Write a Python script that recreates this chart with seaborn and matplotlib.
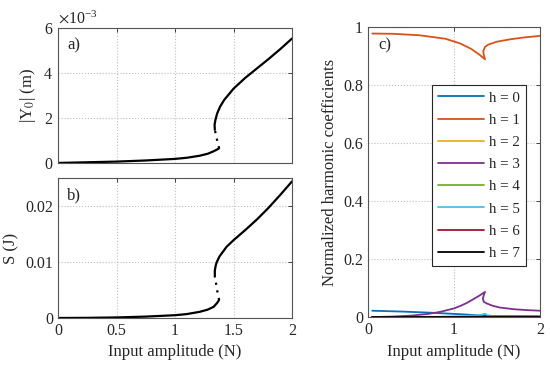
import numpy as np
import pandas as pd
import seaborn as sns
import matplotlib.pyplot as plt
from matplotlib.ticker import ScalarFormatter

# --- data ---
# panel a) |Y0| in units of 1e-3 m, three branches of the fold
a_low_x = [0.0, 0.25, 0.5, 0.75, 1.0, 1.1, 1.21, 1.28, 1.33, 1.36, 1.376]
a_low_y = [0.0, 0.03, 0.06, 0.11, 0.18, 0.23, 0.32, 0.41, 0.52, 0.60, 0.65]
a_mid_x = [1.376, 1.372, 1.362, 1.35, 1.34]
a_mid_y = [0.65, 0.80, 0.95, 1.24, 1.47]
a_up_x = [1.34, 1.338, 1.345, 1.36, 1.385, 1.42, 1.46, 1.5, 1.6, 1.7, 1.8, 1.9, 2.0]
a_up_y = [1.47, 1.70, 1.91, 2.2, 2.5, 2.8, 3.05, 3.3, 3.78, 4.2, 4.62, 5.06, 5.53]

# panel b) S in J
b_low_x = [0.0, 0.25, 0.5, 0.75, 1.0, 1.1, 1.21, 1.28, 1.33, 1.36, 1.376]
b_low_y = [0.0, 0.00003, 0.0001, 0.00025, 0.0005, 0.0007, 0.0011, 0.0015, 0.0020, 0.0027, 0.0032]
b_mid_x = [1.376, 1.372, 1.362, 1.35, 1.34]
b_mid_y = [0.0032, 0.0040, 0.0047, 0.0062, 0.0074]
b_up_x = [1.34, 1.340, 1.348, 1.357, 1.38, 1.44, 1.5, 1.6, 1.7, 1.8, 1.9, 2.0]
b_up_y = [0.0074, 0.0085, 0.0094, 0.0100, 0.0110, 0.0127, 0.0139, 0.0157, 0.0176, 0.0197, 0.0220, 0.0244]

# panel c) normalized harmonic coefficients, ordered along the solution path
h0_x = [0.05, 0.4, 0.74, 1.0, 1.13, 1.3, 1.37, 1.34, 1.4, 1.6, 2.0]
h0_y = [0.022, 0.019, 0.015, 0.011, 0.009, 0.006, 0.005, 0.004, 0.003, 0.003, 0.002]
h1_x = [0.05, 0.3, 0.6, 0.9, 1.07, 1.2, 1.3, 1.36, 1.345, 1.34, 1.36, 1.4, 1.5, 1.65, 1.8, 2.0]
h1_y = [0.978, 0.977, 0.972, 0.960, 0.944, 0.925, 0.904, 0.889, 0.905, 0.918, 0.932, 0.940, 0.950, 0.958, 0.964, 0.970]
h2_x = [0.05, 1.0, 1.37, 1.34, 2.0]
h2_y = [0.0, 0.001, 0.002, 0.002, 0.001]
h3_x = [0.05, 0.3, 0.5, 0.7, 0.84, 1.0, 1.07, 1.15, 1.22, 1.3, 1.36, 1.345, 1.335, 1.345, 1.38, 1.45, 1.53, 1.7, 1.85, 2.0]
h3_y = [0.0, 0.002, 0.005, 0.011, 0.018, 0.030, 0.038, 0.049, 0.061, 0.075, 0.087, 0.075, 0.064, 0.053, 0.047, 0.039, 0.033, 0.027, 0.024, 0.022]
h4_x = [0.05, 1.0, 1.37, 1.34, 2.0]
h4_y = [0.0, 0.0, 0.001, 0.001, 0.0]
h5_x = [0.05, 0.8, 1.1, 1.3, 1.37, 1.34, 1.45, 1.7, 2.0]
h5_y = [0.0, 0.001, 0.003, 0.007, 0.011, 0.008, 0.004, 0.002, 0.001]
h6_x = [0.05, 1.0, 1.37, 1.34, 2.0]
h6_y = [0.0, 0.0, 0.002, 0.002, 0.002]
h7_x = [0.05, 1.0, 1.37, 1.34, 2.0]
h7_y = [0.0, 0.0, 0.0, 0.0, 0.0]

h_labels = ['h = 0', 'h = 1', 'h = 2', 'h = 3', 'h = 4', 'h = 5', 'h = 6', 'h = 7']
h_colors = ['#0072BD', '#D95319', '#EDB120', '#7E2F8E', '#77AC30', '#4DBEEE', '#A2142F', '#000000']

sns.set_theme(style='white')
plt.rcParams['font.family'] = ['Liberation Serif', 'DejaVu Serif']
plt.rcParams['mathtext.fontset'] = 'stix'
plt.rcParams['font.size'] = 11.5

LABEL_SIZE = 12
TICK_SIZE = 11.5

fig = plt.figure(figsize=(5.5, 3.67), dpi=100)
ax_a = fig.add_axes([0.1055, 0.556, 0.4255, 0.368])
ax_b = fig.add_axes([0.1055, 0.1335, 0.4255, 0.3815])
ax_c = fig.add_axes([0.669, 0.136, 0.313, 0.790])


def style_axes(ax):
    for s in ax.spines.values():
        s.set_color('#555555')
        s.set_linewidth(0.8)
    ax.grid(True, color='#c0c0c0', linestyle=':', linewidth=0.8)
    ax.tick_params(direction='in', length=3, width=0.6, colors='#262626',
                   labelsize=TICK_SIZE, top=True, right=True, labelcolor='#262626')
    ax.set_axisbelow(True)


def draw_fold(ax, lx, ly, mx, my, ux, uy, scale=1.0):
    kw = dict(sort=False, estimator=None, color='black', ax=ax, legend=False)
    sns.lineplot(x=lx, y=np.array(ly) * scale, linewidth=1.6, **kw)
    sns.lineplot(x=mx, y=np.array(my) * scale, linewidth=1.6, linestyle=(0, (1, 2.5)), **kw)
    sns.lineplot(x=ux, y=np.array(uy) * scale, linewidth=1.6, **kw)


# a)
draw_fold(ax_a, a_low_x, a_low_y, a_mid_x, a_mid_y, a_up_x, a_up_y, scale=1e-3)
ax_a.set_xlim(0, 2)
ax_a.set_ylim(0, 6e-3)
ax_a.set_xticks([0, 0.5, 1, 1.5, 2])
ax_a.set_xticklabels([])
ax_a.set_yticks([0, 2e-3, 4e-3, 6e-3])
fmt = ScalarFormatter(useMathText=True)
fmt.set_powerlimits((0, 0))
ax_a.yaxis.set_major_formatter(fmt)
ax_a.set_ylabel(r'|Y$_0$| (m)', fontsize=LABEL_SIZE)
ax_a.text(0.04, 0.93, 'a)', transform=ax_a.transAxes, va='top', fontsize=LABEL_SIZE)
style_axes(ax_a)
ax_a.yaxis.get_offset_text().set_fontsize(TICK_SIZE)

# b)
draw_fold(ax_b, b_low_x, b_low_y, b_mid_x, b_mid_y, b_up_x, b_up_y)
ax_b.set_xlim(0, 2)
ax_b.set_ylim(0, 0.025)
ax_b.set_xticks([0, 0.5, 1, 1.5, 2])
ax_b.set_xticklabels(['0', '0.5', '1', '1.5', '2'])
ax_b.set_yticks([0, 0.01, 0.02])
ax_b.set_yticklabels(['0', '0.01', '0.02'])
ax_b.set_ylabel('S (J)', fontsize=LABEL_SIZE)
ax_b.set_xlabel('Input amplitude (N)', fontsize=LABEL_SIZE)
ax_b.text(0.04, 0.93, 'b)', transform=ax_b.transAxes, va='top', fontsize=LABEL_SIZE)
style_axes(ax_b)

# c)
hx = [h0_x, h1_x, h2_x, h3_x, h4_x, h5_x, h6_x, h7_x]
hy = [h0_y, h1_y, h2_y, h3_y, h4_y, h5_y, h6_y, h7_y]
frames = []
for lab, xs, ys in zip(h_labels, hx, hy):
    frames.append(pd.DataFrame({'x': xs, 'y': ys, 'h': lab}))
df_c = pd.concat(frames, ignore_index=True)
sns.lineplot(data=df_c, x='x', y='y', hue='h', hue_order=h_labels, palette=h_colors,
             sort=False, estimator=None, linewidth=1.3, ax=ax_c)
ax_c.set_xlim(0, 2)
ax_c.set_ylim(0, 1)
ax_c.set_xticks([0, 1, 2])
ax_c.set_xticklabels(['0', '1', '2'])
ax_c.set_yticks([0, 0.2, 0.4, 0.6, 0.8, 1])
ax_c.set_yticklabels(['0', '0.2', '0.4', '0.6', '0.8', '1'])
ax_c.set_xlabel('Input amplitude (N)', fontsize=LABEL_SIZE)
ax_c.set_ylabel('Normalized harmonic coefficients', fontsize=LABEL_SIZE)
ax_c.text(0.06, 0.965, 'c)', transform=ax_c.transAxes, va='top', fontsize=LABEL_SIZE)
style_axes(ax_c)
handles, labels = ax_c.get_legend_handles_labels()
leg = ax_c.legend(handles, labels, loc='upper left', bbox_to_anchor=(0.37, 0.80),
                  frameon=True, fancybox=False, edgecolor='#262626', framealpha=1,
                  handlelength=3.1, fontsize=10.8, labelspacing=0.58, borderpad=0.4,
                  handletextpad=0.35, borderaxespad=0)
leg.get_frame().set_linewidth(0.8)

fig.savefig('out.png', dpi=100)
